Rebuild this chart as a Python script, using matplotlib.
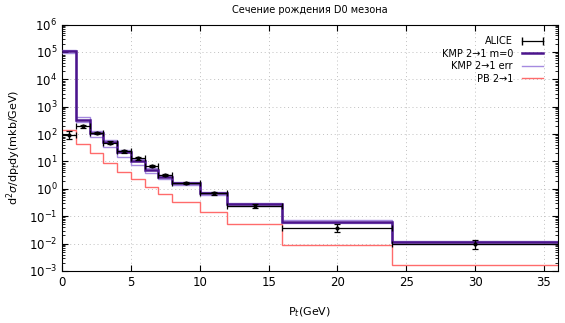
import matplotlib.pyplot as plt
import numpy as np
from matplotlib.lines import Line2D
from matplotlib.ticker import LogLocator, NullFormatter, MultipleLocator

# pt bins (GeV)
edges = [0, 1, 2, 3, 4, 5, 6, 7, 8, 10, 12, 16, 24, 36]

kmp_m0 = [1.05e5, 340, 110, 52, 22, 10.5, 5.0, 2.8, 1.6, 0.70, 0.27, 0.063, 0.011]
kmp_hi = [1.15e5, 420, 135, 60, 26, 12.5, 6.0, 3.2, 1.8, 0.78, 0.30, 0.070, 0.012]
kmp_lo = [0.95e5, 280, 81, 35, 15, 7.6, 3.8, 2.2, 1.4, 0.60, 0.23, 0.055, 0.0095]
pb = [145, 44, 20, 9.1, 4.3, 2.3, 1.15, 0.64, 0.33, 0.14, 0.053, 0.0089, 0.0017]

alice_y = [96, 190, 110, 49, 24, 13, 6.9, 3.2, 1.7, 0.69, 0.24, 0.038, 0.0097]
alice_err = [30, 25, 12, 6, 3, 1.5, 0.8, 0.35, 0.15, 0.08, 0.035, 0.012, 0.0033]

e = np.array(edges, dtype=float)
centers = (e[1:] + e[:-1]) / 2
half = (e[1:] - e[:-1]) / 2

fig = plt.figure(figsize=(5.65, 3.23), dpi=100)
ax = fig.add_axes([0.110, 0.161, 0.877, 0.763])

ax.errorbar(centers, alice_y, yerr=alice_err, xerr=half, fmt='.', color='black',
            markersize=4, elinewidth=0.9, capsize=2, capthick=0.9, zorder=5)
h_m0 = ax.stairs(kmp_m0, edges, baseline=None, color='#4b148c', linewidth=1.8, zorder=4)
h_err = ax.stairs(kmp_hi, edges, baseline=None, color='#a58ae0', linewidth=1.0, zorder=3)
ax.stairs(kmp_lo, edges, baseline=None, color='#a58ae0', linewidth=1.0, zorder=3)
h_pb = ax.stairs(pb, edges, baseline=None, color='#ff6b6b', linewidth=1.0, zorder=2)

# legend proxies (gnuplot style)
h_alice = Line2D([], [], color='black', linewidth=0.9, marker='|', markersize=6)
h_m0l = Line2D([], [], color='#4b148c', linewidth=1.8)
h_errl = Line2D([], [], color='#a58ae0', linewidth=1.0)
h_pbl = Line2D([], [], color='#ff6b6b', linewidth=1.0)

ax.set_yscale('log')
ax.set_xlim(0, 36)
ax.set_ylim(1e-3, 1e6)
ax.xaxis.set_major_locator(MultipleLocator(5))
ax.yaxis.set_major_locator(LogLocator(base=10, numticks=20))
ax.yaxis.set_minor_locator(LogLocator(base=10, subs=np.arange(2, 10), numticks=20))
ax.yaxis.set_minor_formatter(NullFormatter())
ax.tick_params(which='both', direction='in', top=True, right=True, labelsize=8.5)
ax.tick_params(which='major', length=4)
ax.tick_params(which='minor', length=2)
ax.grid(True, which='major', linestyle=(0, (1, 3)), color='#c0c0c0', linewidth=0.7)

ax.set_title('Сечение рождения D0 мезона', fontsize=7, pad=8)
ax.set_xlabel(r'P$_t$(GeV)', fontsize=8, labelpad=12)
ax.set_ylabel(r'd$^2\sigma$/dp$_t$dy(mkb/GeV)', fontsize=8)

ax.legend([h_alice, h_m0l, h_errl, h_pbl], ['ALICE', 'KMP 2→1 m=0', 'KMP 2→1 err', 'PB 2→1'],
          loc='upper right', frameon=False, markerfirst=False, fontsize=7, numpoints=2,
          handlelength=2.8, handletextpad=0.6, labelspacing=0.25, borderaxespad=0.8)

plt.savefig('out.png', dpi=100)
